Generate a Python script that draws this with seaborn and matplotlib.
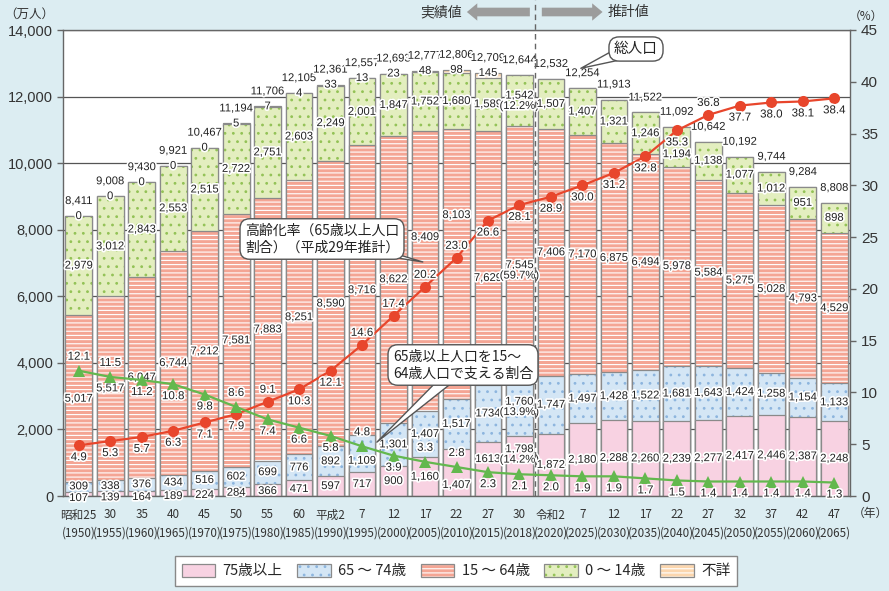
import numpy as np
import pandas as pd
import matplotlib
matplotlib.use("Agg")
import matplotlib.pyplot as plt
import matplotlib.patheffects as pe
from matplotlib.patches import Patch, Rectangle, FancyArrow
from matplotlib.ticker import FuncFormatter
import seaborn as sns

# ---------------- data ----------------
era = ["昭和25", "30", "35", "40", "45", "50", "55", "60", "平成2", "7", "12", "17", "22",
       "27", "30", "令和2", "7", "12", "17", "22", "27", "32", "37", "42", "47"]
years = [1950, 1955, 1960, 1965, 1970, 1975, 1980, 1985, 1990, 1995, 2000, 2005, 2010,
         2015, 2018, 2020, 2025, 2030, 2035, 2040, 2045, 2050, 2055, 2060, 2065]
total = [8411, 9008, 9430, 9921, 10467, 11194, 11706, 12105, 12361, 12557, 12693, 12777,
         12806, 12709, 12644, 12532, 12254, 11913, 11522, 11092, 10642, 10192, 9744, 9284, 8808]
age75plus = [107, 139, 164, 189, 224, 284, 366, 471, 597, 717, 900, 1160, 1407, 1613, 1798,
             1872, 2180, 2288, 2260, 2239, 2277, 2417, 2446, 2387, 2248]
age65_74 = [309, 338, 376, 434, 516, 602, 699, 776, 892, 1109, 1301, 1407, 1517, 1734, 1760,
            1747, 1497, 1428, 1522, 1681, 1643, 1424, 1258, 1154, 1133]
age15_64 = [5017, 5517, 6047, 6744, 7212, 7581, 7883, 8251, 8590, 8716, 8622, 8409, 8103,
            7629, 7545, 7406, 7170, 6875, 6494, 5978, 5584, 5275, 5028, 4793, 4529]
age0_14 = [2979, 3012, 2843, 2553, 2515, 2722, 2751, 2603, 2249, 2001, 1847, 1752, 1680,
           1589, 1542, 1507, 1407, 1321, 1246, 1194, 1138, 1077, 1012, 951, 898]
unknown = [0, 0, 0, 0, 0, 5, 7, 4, 33, 13, 23, 48, 98, 145,
           np.nan, np.nan, np.nan, np.nan, np.nan, np.nan, np.nan, np.nan, np.nan, np.nan, np.nan]
aging_rate = [4.9, 5.3, 5.7, 6.3, 7.1, 7.9, 9.1, 10.3, 12.1, 14.6, 17.4, 20.2, 23.0, 26.6,
              28.1, 28.9, 30.0, 31.2, 32.8, 35.3, 36.8, 37.7, 38.0, 38.1, 38.4]
support_ratio = [12.1, 11.5, 11.2, 10.8, 9.8, 8.6, 7.4, 6.6, 5.8, 4.8, 3.9, 3.3, 2.8, 2.3,
                 2.1, 2.0, 1.9, 1.9, 1.7, 1.5, 1.4, 1.4, 1.4, 1.4, 1.3]
share_2018 = {"0-14": "(12.2%)", "15-64": "(59.7%)", "65-74": "(13.9%)", "75+": "(14.2%)"}
legend_labels = ["75歳以上", "65 ～ 74歳", "15 ～ 64歳", "0 ～ 14歳", "不詳"]

# ---------------- style / positions ----------------
BG = "#DCEDF2"
C75, C6574, C1564, C014, CUNK = "#F8D2E2", "#D4E6F5", "#F4A594", "#E3EEBF", "#FBD6AE"
H6574, H014 = "#8DB5DE", "#93C256"
EDGE = "#8A8A8A"
RED, GREEN = "#E8462C", "#63B84E"
TXT = "#222222"
NUMFONT = ["Liberation Sans Narrow", "Liberation Sans", "Noto Sans CJK JP"]
TICKFONT = ["Liberation Sans", "Noto Sans CJK JP"]

sns.set_theme(style="white")
plt.rcParams["font.family"] = ["Noto Sans CJK JP", "DejaVu Sans"]
plt.rcParams["hatch.linewidth"] = 0.8

W, H = 889, 591
L, R, T, B = 63, 850, 30, 496
fig = plt.figure(figsize=(W / 100, H / 100), dpi=100, facecolor=BG)
ax = fig.add_axes([L / W, 1 - B / H, (R - L) / W, (B - T) / H])
ax.set_facecolor("white")
YMAX = 14000
n = len(years)
pos = np.arange(n)
halo = [pe.withStroke(linewidth=2.4, foreground="white")]

c1 = np.array(age75plus, dtype=float)
c2 = c1 + np.array(age65_74)
c3 = c2 + np.array(age15_64)
c4 = c3 + np.array(age0_14)
c5 = c4 + np.nan_to_num(np.array(unknown, dtype=float))

layers = [(c5, CUNK, "----", "white"), (c4, C014, "..", H014), (c3, C1564, "----", "white"),
          (c2, C6574, "..", H6574), (c1, C75, None, None)]
for top, fc, hatch, hc in layers:
    n0 = len(ax.patches)
    sns.barplot(x=pos, y=top, native_scale=True, width=0.85, color=fc, saturation=1,
                errorbar=None, ax=ax)
    for p in list(ax.patches[n0:]):
        p.set_linewidth(0)
        if hatch:
            p.set_hatch(hatch)
            p.set_edgecolor(hc)
        ax.add_patch(Rectangle(p.get_xy(), p.get_width(), p.get_height(), fill=False,
                               ec=EDGE, lw=0.9))

ax.set_xlim(-0.5, n - 0.5)
ax.set_ylim(0, YMAX)
ax.set_yticks(range(0, YMAX + 1, 2000))
ax.yaxis.set_major_formatter(FuncFormatter(lambda v, p: f"{int(v):,}"))
ax.yaxis.grid(True, color="#555555", lw=0.9)
ax.xaxis.grid(False)
ax.set_axisbelow(True)
ax.set_xlabel("")
ax.set_ylabel("")
for s in ax.spines.values():
    s.set_color("#666666")
    s.set_linewidth(1)
ax.tick_params(axis="y", left=True, length=4, width=1, color="#666666", labelsize=10.5,
               labelcolor="#333333", pad=3)
for lab in ax.get_yticklabels():
    lab.set_family(TICKFONT)
ax.set_xticks(pos)
ax.set_xticklabels([f"{e}\n({y})" for e, y in zip(era, years)],
                   family=["Liberation Sans Narrow", "Noto Sans CJK JP"],
                   fontsize=8.4, color="#333333", linespacing=1.5)
ax.tick_params(axis="x", length=0, pad=9)

# ---------------- bar labels ----------------
override = {("15-64", 11): 7780, ("15-64", 12): 8440, ("15-64", 13): 6550, ("15-64", 14): 6780,
            ("0-14", 19): 10270, ("75+", 14): 1250, ("75+", 13): 1110, ("75+", 12): 330,
            ("65-74", 9): 1060, ("65-74", 0): 290, ("65-74", 1): 300,
            ("75+", 0): -60, ("75+", 1): -40, ("75+", 2): -30, ("75+", 3): 0, ("75+", 4): 30,
            ("75+", 5): 100, ("75+", 6): 150, ("75+", 7): 210}
no_comma = {("65-74", 13), ("75+", 13)}
segs = [("75+", age75plus, np.zeros(n), c1), ("65-74", age65_74, c1, c2),
        ("15-64", age15_64, c2, c3), ("0-14", age0_14, c3, c4)]
for key, vals, bot, top in segs:
    for i in range(n):
        y = override.get((key, i), (bot[i] + top[i]) / 2)
        s = f"{vals[i]}" if (key, i) in no_comma else f"{vals[i]:,}"
        if years[i] == 2018:
            s = s + "\n" + share_2018[key]
        ax.text(i, y, s, ha="center", va="center", fontsize=8.1, family=NUMFONT, color=TXT,
                path_effects=halo, linespacing=1.05, zorder=5)
for i in range(n):
    if not np.isnan(unknown[i]):
        ax.text(i, c5[i], f"{int(unknown[i])}", ha="center", va="center", fontsize=8.1,
                family=NUMFONT, color=TXT, path_effects=halo, zorder=5)
    ax.text(i, c5[i] + 450, f"{total[i]:,}", ha="center", va="center", fontsize=8.1,
            family=NUMFONT, color=TXT, path_effects=halo, zorder=5)

# dashed divider and header
ax.axvline(14.5, ymin=0, ymax=1 + 30 / 466, color="#666666", ls=(0, (4, 3)), lw=1,
           clip_on=False, zorder=6)
hy = YMAX + 18 / 466 * YMAX
ax.add_patch(FancyArrow(14.33, hy, -2.0, 0, width=260, head_width=520, head_length=0.33,
                        length_includes_head=True, color="#9C9C9C", clip_on=False, lw=0))
ax.add_patch(FancyArrow(14.71, hy, 1.93, 0, width=260, head_width=520, head_length=0.33,
                        length_includes_head=True, color="#9C9C9C", clip_on=False, lw=0))
ax.text(11.5, hy, "実績値", ha="center", va="center", fontsize=10, color="#333333")
ax.text(17.47, hy, "推計値", ha="center", va="center", fontsize=10, color="#333333")

# ---------------- lines ----------------
ax2 = ax.twinx()
ax2.set_ylim(0, 45)
sns.lineplot(x=pos, y=aging_rate, ax=ax2, color=RED, lw=1.6, marker="o", markersize=8,
             markeredgewidth=0)
sns.lineplot(x=pos, y=support_ratio, ax=ax2, color=GREEN, lw=1.6, marker="^", markersize=9,
             markeredgewidth=0)
ax2.set_yticks(range(0, 46, 5))
ax2.tick_params(axis="y", right=True, length=4, width=1, color="#666666", labelsize=11,
                labelcolor="#333333", pad=4)
for lab in ax2.get_yticklabels():
    lab.set_family(TICKFONT)
ax2.set_ylabel("")
for s in ax2.spines.values():
    s.set_visible(False)
ax2.grid(False)

red_above = {6, 9, 10, 11, 12, 20}
green_above = {0, 1, 5, 9, 11, 12}
for i in range(n):
    dy = 12 if i in red_above else -12
    ax2.annotate(f"{aging_rate[i]:.1f}", (i, aging_rate[i]), xytext=(0, dy),
                 textcoords="offset pixels", ha="center", va="center", fontsize=8.3,
                 family=NUMFONT, color=TXT, path_effects=halo)
    dy = 14 if i in green_above else -12
    ax2.annotate(f"{support_ratio[i]:.1f}", (i, support_ratio[i]), xytext=(0, dy),
                 textcoords="offset pixels", ha="center", va="center", fontsize=8.3,
                 family=NUMFONT, color=TXT, path_effects=halo)

# ---------------- callouts ----------------
def callout(text, xy, xytext_px, fs=10, tw=1.0, rel=(0.5, 0.5)):
    ax2.annotate(text, xy=xy, xycoords="data", xytext=(xytext_px[0], H - xytext_px[1]),
                 textcoords="figure pixels", ha="center", va="center", multialignment="left",
                 fontsize=fs, color="#222222", linespacing=1.25, zorder=10,
                 bbox=dict(boxstyle="round,pad=0.35,rounding_size=0.7", fc="white", ec="#555555", lw=1),
                 arrowprops=dict(arrowstyle=f"wedge,tail_width={tw},shrink_factor=0.5", fc="white",
                                 ec="#555555", lw=1, patchA=None, relpos=rel, shrinkB=0))

callout("総人口", (15.95, 41.3), (636, 49), fs=10.5, tw=0.9, rel=(0.25, 0.3))
callout("高齢化率（65歳以上人口\n割合）（平成29年推計）", (10.93, 22.6), (322, 239), fs=10, tw=1.0)
callout("65歳以上人口を15～\n64歳人口で支える割合", (9.47, 5.2), (463, 365), fs=10, tw=1.0)

# ---------------- unit labels ----------------
fig.text(29 / W, 1 - 14 / H, "（万人）", ha="center", va="center", fontsize=9, color="#333333")
fig.text(866 / W, 1 - 16 / H, "（%）", ha="center", va="center", fontsize=8.5, color="#333333")
fig.text(870 / W, 1 - 513 / H, "（年）", ha="center", va="center", fontsize=8.5, color="#333333")

# ---------------- legend ----------------
spec = [(C75, None, None), (C6574, "..", H6574), (C1564, "----", "white"), (C014, "..", H014),
        (CUNK, "----", "white")]
handles = []
for fc, h, hc in spec:
    base = Patch(facecolor=fc, edgecolor=hc if hc else fc, hatch=h, lw=0)
    outline = Patch(facecolor="none", edgecolor=EDGE, lw=0.9)
    handles.append((base, outline))
fig.legend(handles, legend_labels, loc="center", bbox_to_anchor=(456 / W, 1 - 571 / H), ncol=5,
           fontsize=10.5, frameon=True, fancybox=False, edgecolor="#888888", framealpha=1,
           handlelength=2.3, handleheight=1.0, columnspacing=1.0, handletextpad=0.5,
           borderpad=0.5)

fig.savefig("out.png", dpi=100, facecolor=BG)
